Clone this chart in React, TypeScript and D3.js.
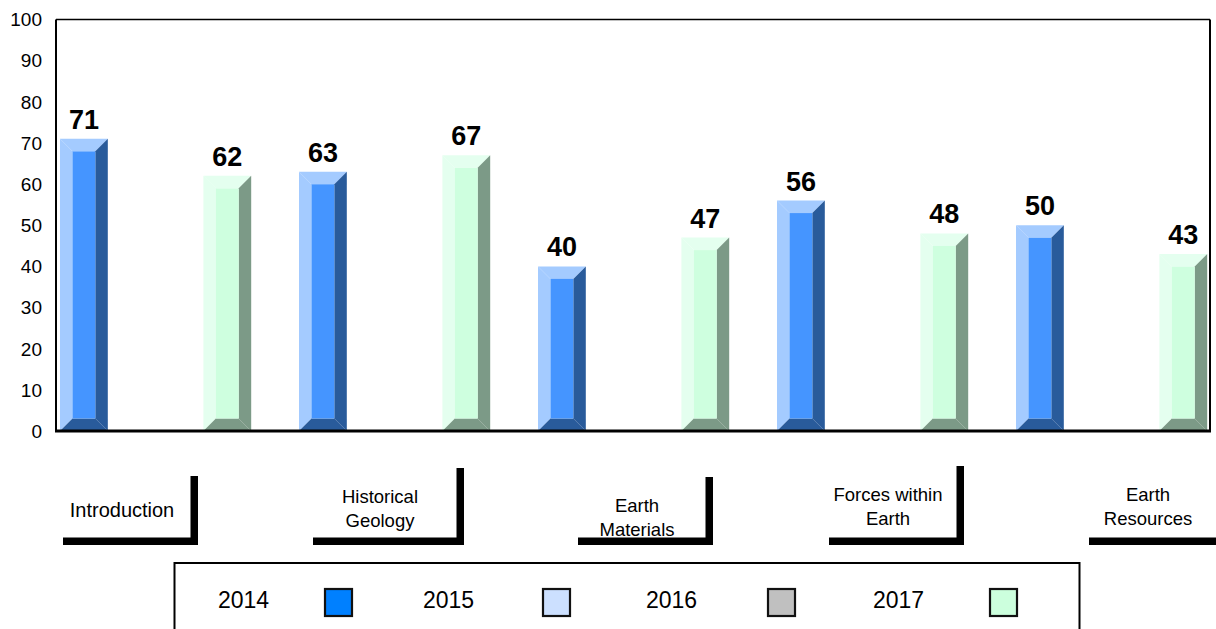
import React from "react";
import * as d3 from "d3";

const categories = ["Introduction", "Historical Geology", "Earth Materials", "Forces within Earth", "Earth Resources"];
const categoryLines = [["Introduction"], ["Historical", "Geology"], ["Earth", "Materials"], ["Forces within", "Earth"], ["Earth", "Resources"]];
const seriesNames = ["2014", "2015", "2016", "2017"];
const values2014 = [71, 63, 40, 56, 50];
const values2015: (number | null)[] = [null, null, null, null, null];
const values2016: (number | null)[] = [null, null, null, null, null];
const values2017 = [62, 67, 47, 48, 43];
const yTicks = [0, 10, 20, 30, 40, 50, 60, 70, 80, 90, 100];

const seriesValues = [values2014, values2015, values2016, values2017];
const legendColors = ["#0080FF", "#CCE0FF", "#C0C0C0", "#CCFFDD"];
const barColors = [
  { light: "#A4CBFF", main: "#4595FF", dark: "#295B9B" },
  { light: "#E6F0FF", main: "#CCE0FF", dark: "#7A8699" },
  { light: "#E0E0E0", main: "#C0C0C0", dark: "#737373" },
  { light: "#E4FFEF", main: "#CEFFDF", dark: "#7C9A87" },
];

const W = 1216;
const H = 629;
const FONT = "'Liberation Sans', Arial, Helvetica, sans-serif";

// category label decoration layout (label centre, line span, vertical bracket)
const catLabelLayout = [
  { cx: 122, base: 517, size: 20, x0: 63, x1: 198, vTop: 476, vert: true },
  { cx: 380, base: 503, size: 18.5, x0: 313, x1: 464, vTop: 468, vert: true },
  { cx: 637, base: 512, size: 18.5, x0: 578, x1: 713, vTop: 477, vert: true },
  { cx: 888, base: 501, size: 18.5, x0: 829, x1: 964, vTop: 466, vert: true },
  { cx: 1148, base: 501, size: 18.5, x0: 1089, x1: 1216, vTop: 0, vert: false },
];
const legendTextX = [218, 423, 646, 873];
const legendSwatchX = [324, 542, 767, 989];

export default function App() {
  const plotL = 56, plotR = 1210, plotT = 19.5, plotB = 431;
  const y = d3.scaleLinear().domain([0, 100]).range([plotB, plotT]);
  const step = 239;
  const x = d3.scaleBand<string>().domain(categories).range([60, 60 + step * categories.length]).padding(0);
  const xs = d3.scaleBand<string>().domain(seriesNames).range([0, (x.bandwidth() * 4) / 5]).padding(0);
  const bw = xs.bandwidth();
  const b = 12.5;

  const bars: React.ReactNode[] = [];
  const labels: React.ReactNode[] = [];
  seriesNames.forEach((s, si) => {
    seriesValues[si].forEach((v, ci) => {
      if (v == null) return;
      const x0 = (x(categories[ci]) as number) + (xs(s) as number);
      const x1 = x0 + bw;
      const yT = y(v);
      const yB = y(0);
      const c = barColors[si];
      const pts = (arr: number[][]) => arr.map((p) => p.join(",")).join(" ");
      bars.push(
        <g key={`b-${si}-${ci}`}>
          <polygon points={pts([[x0, yT], [x0 + b, yT + b], [x0 + b, yB - b], [x0, yB]])} fill={c.light} />
          <polygon points={pts([[x0, yT], [x1, yT], [x1 - b, yT + b], [x0 + b, yT + b]])} fill={c.light} />
          <polygon points={pts([[x1, yT], [x1, yB], [x1 - b, yB - b], [x1 - b, yT + b]])} fill={c.dark} />
          <polygon points={pts([[x0, yB], [x1, yB], [x1 - b, yB - b], [x0 + b, yB - b]])} fill={c.dark} />
          <rect x={x0 + b} y={yT + b} width={bw - 2 * b} height={yB - yT - 2 * b} fill={c.main} />
        </g>
      );
      labels.push(
        <text key={`l-${si}-${ci}`} x={(x0 + x1) / 2} y={yT - 10} textAnchor="middle" fontFamily={FONT} fontWeight="bold" fontSize={27} fill="#000">
          {v}
        </text>
      );
    });
  });

  return (
    <svg width={W} height={H} style={{ position: "absolute", left: 0, top: 0, background: "#fff" }}>
      <rect x={0} y={0} width={W} height={H} fill="#fff" />
      {bars}
      {/* plot frame */}
      <line x1={plotL} y1={plotT} x2={plotR} y2={plotT} stroke="#000" strokeWidth={1.5} />
      <line x1={plotR} y1={plotT} x2={plotR} y2={plotB} stroke="#000" strokeWidth={2} />
      <line x1={plotL} y1={plotT} x2={plotL} y2={plotB} stroke="#000" strokeWidth={2} />
      <line x1={plotL - 1} y1={plotB} x2={plotR + 1} y2={plotB} stroke="#000" strokeWidth={2.8} />
      {labels}
      {yTicks.map((t) => (
        <text key={t} x={42} y={y(t)} dy="0.36em" textAnchor="end" fontFamily={FONT} fontSize={19} fill="#000">
          {t}
        </text>
      ))}
      {categories.map((c, i) => {
        const L = catLabelLayout[i];
        const lines = categoryLines[i];
        return (
          <g key={c}>
            {lines.map((ln, li) => (
              <text key={li} x={L.cx} y={L.base + li * 24} textAnchor="middle" fontFamily={FONT} fontSize={L.size} fill="#000">
                {ln}
              </text>
            ))}
            <rect x={L.x0} y={537.5} width={L.x1 - L.x0} height={7.5} fill="#000" />
            {L.vert && <rect x={L.x1 - 7.5} y={L.vTop} width={7.5} height={545 - L.vTop} fill="#000" />}
          </g>
        );
      })}
      {/* legend */}
      <rect x={174.5} y={563} width={905} height={80} fill="#fff" stroke="#000" strokeWidth={2} />
      {seriesNames.map((s, i) => (
        <g key={s}>
          <text x={legendTextX[i]} y={608} fontFamily={FONT} fontSize={23} fill="#000">
            {s}
          </text>
          <rect x={legendSwatchX[i] + 1} y={589} width={27} height={27} fill={legendColors[i]} stroke="#111" strokeWidth={2.2} />
        </g>
      ))}
    </svg>
  );
}
